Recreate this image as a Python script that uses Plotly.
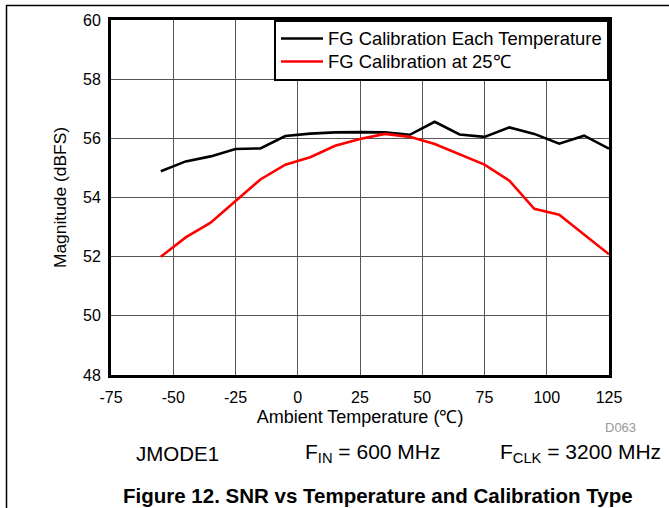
import plotly.graph_objects as go

# SNR vs ambient temperature for two calibration strategies
temps_c = [-55, -45, -35, -25, -15, -5, 5, 15, 25, 35, 45, 55, 65, 75, 85, 95, 105, 115, 125]
snr_cal_each_temp = [54.89, 55.22, 55.39, 55.64, 55.66, 56.08, 56.16, 56.20, 56.21, 56.20,
                     56.12, 56.56, 56.13, 56.05, 56.37, 56.15, 55.82, 56.09, 55.65]
snr_cal_25c = [52.0, 52.65, 53.15, 53.88, 54.61, 55.11, 55.36, 55.75, 55.98, 56.15,
               56.05, 55.81, 55.47, 55.11, 54.57, 53.62, 53.42, 52.75, 52.08]

series_names = ["FG Calibration Each Temperature", "FG Calibration at 25\u2103"]
x_ticks = [-75, -50, -25, 0, 25, 50, 75, 100, 125]
x_tick_text = ["-75", "-50", "-25", "0", "25", "50", "75", "100", "125"]
y_ticks = [48, 50, 52, 54, 56, 58, 60]

W, H = 669, 508
L, R, T, B = 111, 609, 20, 375  # plot area in pixels


def px(x):
    return (x - L) / (R - L)


def py(y):
    return (B - y) / (B - T)


FONT = "Liberation Sans, Arial, sans-serif"


def legend_label(s):
    # larger glyphs than the legend's row height would normally allow
    return '<span style="font-size:18.4px">' + s + "</span>"


fig = go.Figure()
fig.add_trace(go.Scatter(x=temps_c, y=snr_cal_each_temp, mode="lines",
                         name=legend_label(series_names[0]),
                         line=dict(color="black", width=2.6)))
fig.add_trace(go.Scatter(x=temps_c, y=snr_cal_25c, mode="lines",
                         name=legend_label(series_names[1]),
                         line=dict(color="#ff0000", width=2.6)))

axis_common = dict(showline=True, linecolor="black", linewidth=3, mirror=True,
                   showgrid=True, gridcolor="#555555", gridwidth=1, zeroline=False,
                   ticks="", tickfont=dict(family=FONT, size=16, color="black"))

fig.update_xaxes(range=[-75, 125], tickvals=x_ticks, ticktext=x_tick_text,
                 ticklabelstandoff=6,
                 title=dict(text="Ambient Temperature (\u2103)", font=dict(family=FONT, size=18, color="black"),
                            standoff=6),
                 **axis_common)
fig.update_yaxes(range=[48, 60], tickvals=y_ticks, ticklabelstandoff=4,
                 title=dict(text="Magnitude (dBFS)", font=dict(family=FONT, size=17.4, color="black"),
                            standoff=12),
                 **axis_common)

fig.update_layout(
    width=W, height=H,
    margin=dict(l=L, r=W - R, t=T, b=H - B, autoexpand=False),
    paper_bgcolor="white", plot_bgcolor="white",
    font=dict(family=FONT, color="black"),
    showlegend=True,
    legend=dict(x=1, y=1, xanchor="right", yanchor="top",
                bgcolor="white", bordercolor="black", borderwidth=2,
                font=dict(family=FONT, size=15.4, color="black"),
                tracegroupgap=0, itemwidth=42),
)

annotations = [
    dict(text="D063", x=px(620), y=py(427), font=dict(family=FONT, size=13, color="#999999")),
    dict(text="JMODE1", x=px(177), y=py(453), font=dict(family=FONT, size=20.5)),
    dict(text="F<sub>IN</sub> = 600 MHz", x=px(372), y=py(453), font=dict(family=FONT, size=21)),
    dict(text="F<sub>CLK</sub> = 3200 MHz", x=px(580), y=py(453), font=dict(family=FONT, size=21)),
    dict(text="<b>Figure 12. SNR vs Temperature and Calibration Type</b>", x=px(378), y=py(495),
         font=dict(family=FONT, size=20.5)),
]
for a in annotations:
    fig.add_annotation(xref="paper", yref="paper", showarrow=False,
                       xanchor="center", yanchor="middle", **a)

# page frame: top rule and left rule
fig.add_shape(type="line", xref="paper", yref="paper", x0=px(6), x1=px(669), y0=py(5.5), y1=py(5.5),
              line=dict(color="black", width=1.5))
fig.add_shape(type="line", xref="paper", yref="paper", x0=px(6.5), x1=px(6.5), y0=py(5), y1=py(508),
              line=dict(color="black", width=1.5))

fig.write_html("out.html")
